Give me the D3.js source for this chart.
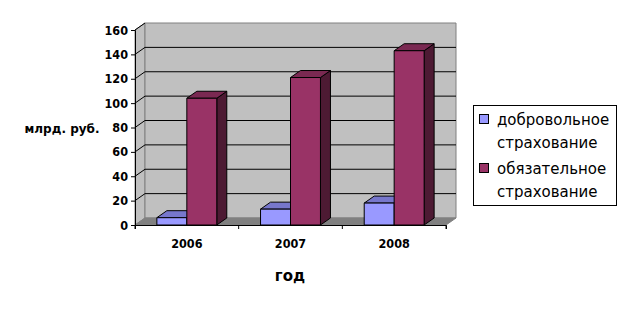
<!DOCTYPE html>
<html>
<head>
<meta charset="utf-8">
<script src="https://cdn.jsdelivr.net/npm/d3@7"></script>
<style>
body{margin:0;background:#fff}
text{font-family:"DejaVu Sans Condensed","DejaVu Sans",sans-serif;font-stretch:condensed}
text.wide{font-family:"DejaVu Sans",sans-serif;font-stretch:normal}
</style>
</head>
<body>
<svg width="631" height="313"></svg>
<script>
const years = ["2006", "2007", "2008"]
const seriesNames = ["добровольное страхование", "обязательное страхование"]
const voluntary = [6, 13, 18]
const mandatory = [104, 121, 143]
const yTicks = [0, 20, 40, 60, 80, 100, 120, 140, 160]
const yTitle = "млрд. руб."
const xTitle = "год"

const colors = [
	{front:"#9999ff", top:"#7777cc", side:"#5c5c99"},
	{front:"#993366", top:"#7a2952", side:"#4d1a33"}
]
// depth offset of the back wall
const DX = 10, DY = -7

const svg = d3.select("svg")
const x0 = d3.scaleBand().domain(years).range([135, 446])
const x1 = d3.scaleBand().domain([0, 1]).range([0, x0.bandwidth()]).paddingOuter(0.73)
const y = d3.scaleLinear().domain([0, 160]).range([225, 30])

const line = d3.line()
function quad(pts){ return line(pts) + "Z" }

const xl = x0.range()[0], xr = x0.range()[1]
// side wall
svg.append("path")
	.attr("d", quad([[xl, y(0)], [xl, y(160)], [xl+DX, y(160)+DY], [xl+DX, y(0)+DY]]))
	.attr("fill", "#c0c0c0").attr("stroke", "#808080")
// back wall
svg.append("path")
	.attr("d", quad([[xl+DX, y(0)+DY], [xl+DX, y(160)+DY], [xr+DX, y(160)+DY], [xr+DX, y(0)+DY]]))
	.attr("fill", "#c0c0c0").attr("stroke", "#808080")
// floor
svg.append("path")
	.attr("d", quad([[xl, y(0)], [xr, y(0)], [xr+DX, y(0)+DY], [xl+DX, y(0)+DY]]))
	.attr("fill", "#808080").attr("stroke", "#808080")

// gridlines
const grid = svg.append("g").attr("stroke", "#000").attr("fill", "none")
yTicks.filter(t => t > 0 && t < 160).forEach(t => {
	grid.append("path").attr("d", line([[xl, y(t)], [xl+DX, y(t)+DY], [xr+DX, y(t)+DY]]))
})
grid.append("path").attr("d", line([[xl, y(160)], [xl+DX, y(160)+DY]]))

// bars
const bars = svg.append("g").attr("stroke", "#000").attr("stroke-width", 1).attr("stroke-linejoin", "miter")
years.forEach((yr, i) => {
	[voluntary[i], mandatory[i]].forEach((v, s) => {
		const a = x0(yr) + x1(s), b = a + x1.bandwidth()
		const t = y(v), f = y(0)
		const c = colors[s]
		const g = bars.append("g")
		g.append("path").attr("fill", c.side)
			.attr("d", quad([[b, f], [b, t], [b+DX, t+DY], [b+DX, f+DY]]))
		g.append("path").attr("fill", c.top)
			.attr("d", quad([[a, t], [b, t], [b+DX, t+DY], [a+DX, t+DY]]))
		g.append("path").attr("fill", c.front)
			.attr("d", quad([[a, f], [a, t], [b, t], [b, f]]))
	})
})

// y axis
const yAxis = svg.append("g").attr("transform", `translate(${xl},0)`)
	.call(d3.axisLeft(y).tickValues(yTicks).tickSize(4).tickPadding(3))
yAxis.select(".domain").attr("stroke", "#000")
yAxis.selectAll("text").attr("font-size", 12.5).attr("font-weight", "bold").attr("fill", "#000")
	.attr("font-family", null)

// x axis
const xAxis = svg.append("g").attr("transform", `translate(0,${y(0)})`)
	.call(d3.axisBottom(x0).tickSize(4).tickPadding(10).tickSizeOuter(4))
xAxis.selectAll(".tick line").attr("transform", d => `translate(${-x0.bandwidth()/2},0)`)
xAxis.append("line").attr("x1", xr).attr("x2", xr).attr("y1", 0).attr("y2", 4).attr("stroke", "#000")
xAxis.selectAll("text").attr("font-size", 12.5).attr("font-weight", "bold").attr("fill", "#000")
	.attr("font-family", null)

// titles
svg.append("text").attr("class", "wide").attr("x", 62).attr("y", 133).attr("text-anchor", "middle")
	.attr("font-size", 12).attr("font-weight", "bold").text(yTitle)
svg.append("text").attr("class", "wide").attr("x", 290).attr("y", 281).attr("text-anchor", "middle")
	.attr("font-size", 15).attr("font-weight", "bold").text(xTitle)

// legend
const legend = svg.append("g")
legend.append("rect").attr("x", 473.5).attr("y", 105.5).attr("width", 143).attr("height", 100)
	.attr("fill", "#fff").attr("stroke", "#000")
seriesNames.forEach((name, i) => {
	const top = 114 + i * 49
	legend.append("rect").attr("x", 479.5).attr("y", top + 0.5).attr("width", 9).attr("height", 9)
		.attr("fill", colors[i].front).attr("stroke", "#000")
	const words = name.split(" ")
	words.forEach((w, j) => {
		legend.append("text").attr("class", "wide").attr("x", 497).attr("y", top + 11 + j * 23)
			.attr("font-size", 15).attr("fill", "#000").text(w)
	})
})
</script>
</body>
</html>
